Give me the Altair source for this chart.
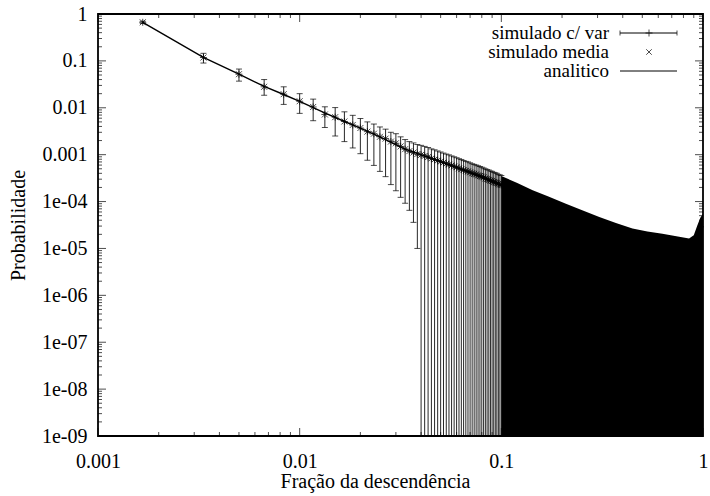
import altair as alt
import pandas as pd

# ---------------------------------------------------------------------------
# Data
# ---------------------------------------------------------------------------
N_TOTAL = 600  # population size: the fraction of descendants is k / N_TOTAL

# simulated runs, k = 1..60 descendants (mean, upper and lower end of the bar)
sim_k = list(range(1, 61))
sim_mean = [
    0.665, 0.118, 0.052, 0.028, 0.0195, 0.0138, 0.0104, 0.0072, 0.0063, 0.0051,
    0.0043, 0.0037, 0.0031, 0.0028, 0.0024, 0.0022, 0.0019, 0.00175, 0.0015, 0.00131,
    0.00119, 0.00111, 0.00103, 0.00099, 0.00094, 0.00089, 0.00083, 0.00079, 0.00075, 0.00071,
    0.00068, 0.00064, 0.00062, 0.00059, 0.00056, 0.00054, 0.00051, 0.00049, 0.00047, 0.00045,
    0.00044, 0.00042, 0.00040, 0.00039, 0.00038, 0.00036, 0.00035, 0.00034, 0.00033, 0.00031,
    0.00030, 0.00029, 0.00028, 0.000275, 0.00026, 0.000255, 0.00025, 0.00024, 0.00023, 0.000225,
]
sim_upper = [
    0.70, 0.145, 0.067, 0.040, 0.028, 0.020, 0.0153, 0.0105, 0.0101, 0.0082,
    0.0069, 0.0059, 0.0050, 0.0045, 0.0039, 0.0035, 0.0030, 0.0028, 0.0024, 0.0021,
    0.0019, 0.00178, 0.00165, 0.00158, 0.00150, 0.00142, 0.00133, 0.00127, 0.00120, 0.00114,
    0.00108, 0.00103, 0.00099, 0.00094, 0.00090, 0.00086, 0.00082, 0.00079, 0.00075, 0.00072,
    0.00070, 0.00067, 0.00064, 0.00062, 0.00060, 0.00058, 0.00056, 0.00054, 0.00052, 0.00050,
    0.00048, 0.00047, 0.00045, 0.00044, 0.00042, 0.00041, 0.00040, 0.00038, 0.00037, 0.00036,
]
# lower ends; None where the bar runs off the bottom of the axis
sim_lower = [
    0.63, 0.090, 0.037, 0.0185, 0.0118, 0.0076, 0.0053, 0.0038, 0.0025, 0.0019,
    0.00139, 0.00105, 0.00076, 0.00059, 0.00044, 0.00034, 0.00023, 0.00017, 0.000123, 0.000092,
    0.000065, 0.000036, 0.000010,
] + [None] * 37

# beyond 10% the bars are packed solid: top of the bars
dense_frac = [0.1, 0.12, 0.143, 0.17, 0.209, 0.25, 0.306, 0.37, 0.447, 0.53,
              0.629, 0.75, 0.853, 0.9, 0.935, 0.97, 1.0]
dense_upper = [3.5e-4, 2.5e-4, 1.75e-4, 1.3e-4, 9.0e-5, 6.6e-5, 4.7e-5, 3.5e-5, 2.65e-5, 2.3e-5,
               2.05e-5, 1.8e-5, 1.62e-5, 1.9e-5, 3.0e-5, 4.5e-5, 5.5e-5]

# analytic probability
ana_frac = [0.001667, 0.00333, 0.005, 0.00667, 0.00833, 0.01, 0.0133, 0.0167, 0.02, 0.025,
            0.0333, 0.05, 0.0667, 0.0833, 0.1, 0.15, 0.2, 0.3, 0.4, 0.5,
            0.6, 0.7, 0.8, 0.9, 0.95, 1.0]
ana_prob = [0.665, 0.119, 0.052, 0.0285, 0.0192, 0.0137, 0.0078, 0.0051, 0.0037, 0.0024,
            0.00131, 0.00071, 0.00045, 0.00031, 0.000225, 1.1e-4, 6.5e-5, 3.0e-5, 1.8e-5, 1.4e-5,
            1.2e-5, 1.05e-5, 1.0e-5, 1.05e-5, 1.5e-5, 3.0e-5]

x_ticks = [0.001, 0.01, 0.1, 1]
x_tick_labels = ["0.001", "0.01", "0.1", "1"]
y_ticks = [1, 0.1, 0.01, 0.001, 1e-4, 1e-5, 1e-6, 1e-7, 1e-8, 1e-9]
y_tick_labels = ["1", "0.1", "0.01", "0.001", "1e-04", "1e-05", "1e-06", "1e-07", "1e-08", "1e-09"]

legend_labels = ["simulado c/ var", "simulado media", "analitico"]

# ---------------------------------------------------------------------------
# Tables
# ---------------------------------------------------------------------------
Y_MIN, Y_MAX = 1e-9, 1.0
X_MIN, X_MAX = 0.001, 1.0

sim = pd.DataFrame({
    "frac": [k / N_TOTAL for k in sim_k],
    "mean": sim_mean,
    "upper": sim_upper,
    "lower": [Y_MIN if v is None else v for v in sim_lower],
    "has_lower": [v is not None for v in sim_lower],
})
dense = pd.DataFrame({"frac": dense_frac, "upper": dense_upper, "floor": Y_MIN})
ana = pd.DataFrame({"frac": ana_frac, "prob": ana_prob})

minor_mult = [2, 3, 4, 5, 6, 7, 8, 9]
x_minor = [m * d for d in [0.001, 0.01, 0.1] for m in minor_mult]
y_minor = [m * d for d in [1e-9, 1e-8, 1e-7, 1e-6, 1e-5, 1e-4, 1e-3, 1e-2, 1e-1] for m in minor_mult]

FONT = "Liberation Serif"
FS = 20


def label_expr(values, labels):
    parts = [f"abs(datum.value - {v}) < {v * 1e-6} ? '{t}'" for v, t in zip(values, labels)]
    return " : ".join(parts) + " : ''"


x_scale = alt.Scale(type="log", domain=[X_MIN, X_MAX], nice=False)
y_scale = alt.Scale(type="log", domain=[Y_MIN, Y_MAX], nice=False)

x_axis = alt.Axis(
    values=x_ticks, labelExpr=label_expr(x_ticks, x_tick_labels), ticks=False, domain=False,
    grid=False, labelFont=FONT, labelFontSize=FS, labelColor="black", labelPadding=15,
    title="Fração da descendência", titleFont=FONT, titleFontSize=FS, titleFontWeight="normal",
    titleColor="black", titleX=277, titleY=51, titleBaseline="alphabetic", labelFlush=False,
)
y_axis = alt.Axis(
    values=y_ticks, labelExpr=label_expr(y_ticks, y_tick_labels), ticks=False, domain=False,
    grid=False, labelFont=FONT, labelFontSize=FS, labelColor="black", labelPadding=11,
    title="Probabilidade", titleFont=FONT, titleFontSize=FS, titleFontWeight="normal",
    titleColor="black", titleX=-80, titleY=211, titleAngle=270, titleAlign="center",
    titleBaseline="middle", labelFlush=False,
)

X = lambda f: alt.X(f"{f}:Q", scale=x_scale, axis=x_axis)
Y = lambda f: alt.Y(f"{f}:Q", scale=y_scale, axis=y_axis)

# solid block of packed error bars
dense_area = alt.Chart(dense).mark_area(color="black", opacity=1, interpolate="linear").encode(
    x=X("frac"), y=Y("upper"), y2="floor:Q"
)

# individual error bars
bars = alt.Chart(sim).mark_rule(color="black", strokeWidth=1, opacity=0.85).encode(
    x=X("frac"), y=Y("upper"), y2="lower:Q"
)
caps_top = alt.Chart(sim).mark_tick(orient="horizontal", color="black", size=6, thickness=1).encode(
    x=X("frac"), y=Y("upper")
)
caps_low = alt.Chart(sim).transform_filter("datum.has_lower").mark_tick(
    orient="horizontal", color="black", size=6, thickness=1
).encode(x=X("frac"), y=Y("lower"))

analytic = alt.Chart(ana).mark_line(color="black", strokeWidth=1.4).encode(
    x=X("frac"), y=Y("prob")
)

PLUS = "M-1,0L1,0M0,-1L0,1"
CROSS = "M-1,-1L1,1M-1,1L1,-1"
plus_pts = alt.Chart(sim).mark_point(shape=PLUS, size=49, color="black", filled=False, strokeWidth=1).encode(
    x=X("frac"), y=Y("mean")
)
cross_pts = alt.Chart(sim).mark_point(shape=CROSS, size=36, color="black", filled=False, strokeWidth=1).encode(
    x=X("frac"), y=Y("mean")
)

# inward ticks on all four borders
MAJ, MIN_ = 8, 4


def edge_ticks(values, fixed, vertical, length, sign):
    df = pd.DataFrame({"frac": values if vertical else [fixed] * len(values),
                       "prob": [fixed] * len(values) if vertical else values})
    off = sign * length / 2
    kw = dict(orient="vertical" if vertical else "horizontal", color="black", size=length, thickness=1)
    if vertical:
        kw["yOffset"] = off
    else:
        kw["xOffset"] = off
    return alt.Chart(df).mark_tick(**kw).encode(x=X("frac"), y=Y("prob"))


tick_layers = [
    edge_ticks(x_ticks, Y_MIN, True, MAJ, -1), edge_ticks(x_minor, Y_MIN, True, MIN_, -1),
    edge_ticks(x_ticks, Y_MAX, True, MAJ, 1), edge_ticks(x_minor, Y_MAX, True, MIN_, 1),
    edge_ticks(y_ticks, X_MIN, False, MAJ, 1), edge_ticks(y_minor, X_MIN, False, MIN_, 1),
    edge_ticks(y_ticks, X_MAX, False, MAJ, -1), edge_ticks(y_minor, X_MAX, False, MIN_, -1),
]

# key in the upper right corner
leg = pd.DataFrame({"label": legend_labels, "row": [0, 1, 2]})
leg["ty"] = 19 + 19 * leg["row"]
leg["x0"], leg["x1"], leg["xm"] = 522, 579, 551
px = lambda f: alt.X(f"{f}:Q", scale=None, axis=None)
py = lambda f: alt.Y(f"{f}:Q", scale=None, axis=None)

leg_text = alt.Chart(leg).mark_text(align="right", baseline="middle", font=FONT, fontSize=19,
                                    color="black").encode(
    x=alt.value(511), y=py("ty"), text="label:N"
)
leg_lines = alt.Chart(leg).transform_filter("datum.row != 1").mark_rule(color="black", strokeWidth=1).encode(
    x=px("x0"), x2="x1:Q", y=py("ty")
)
leg_end = alt.Chart(leg).transform_filter("datum.row == 0").transform_fold(["x0", "x1"], as_=["end", "xe"]).mark_tick(
    orient="vertical", color="black", size=5, thickness=1
).encode(x=px("xe"), y=py("ty"))
leg_plus = alt.Chart(leg).transform_filter("datum.row == 0").mark_point(
    shape=PLUS, size=49, color="black", filled=False, strokeWidth=1
).encode(x=px("xm"), y=py("ty"))
leg_cross = alt.Chart(leg).transform_filter("datum.row == 1").mark_point(
    shape=CROSS, size=30, color="black", filled=False, strokeWidth=1
).encode(x=px("xm"), y=py("ty"))

chart = alt.layer(
    dense_area, bars, caps_top, caps_low, analytic, plus_pts, cross_pts,
    *tick_layers,
    leg_text, leg_lines, leg_end, leg_plus, leg_cross,
).properties(
    width=605, height=422,
    autosize=alt.AutoSizeParams(type="none"),
    padding={"left": 98, "top": 14, "right": 7, "bottom": 60},
    background="white",
).configure_view(stroke="black", strokeWidth=1.8)

chart.save("out.html", embed_options={"renderer": "svg", "actions": False})
